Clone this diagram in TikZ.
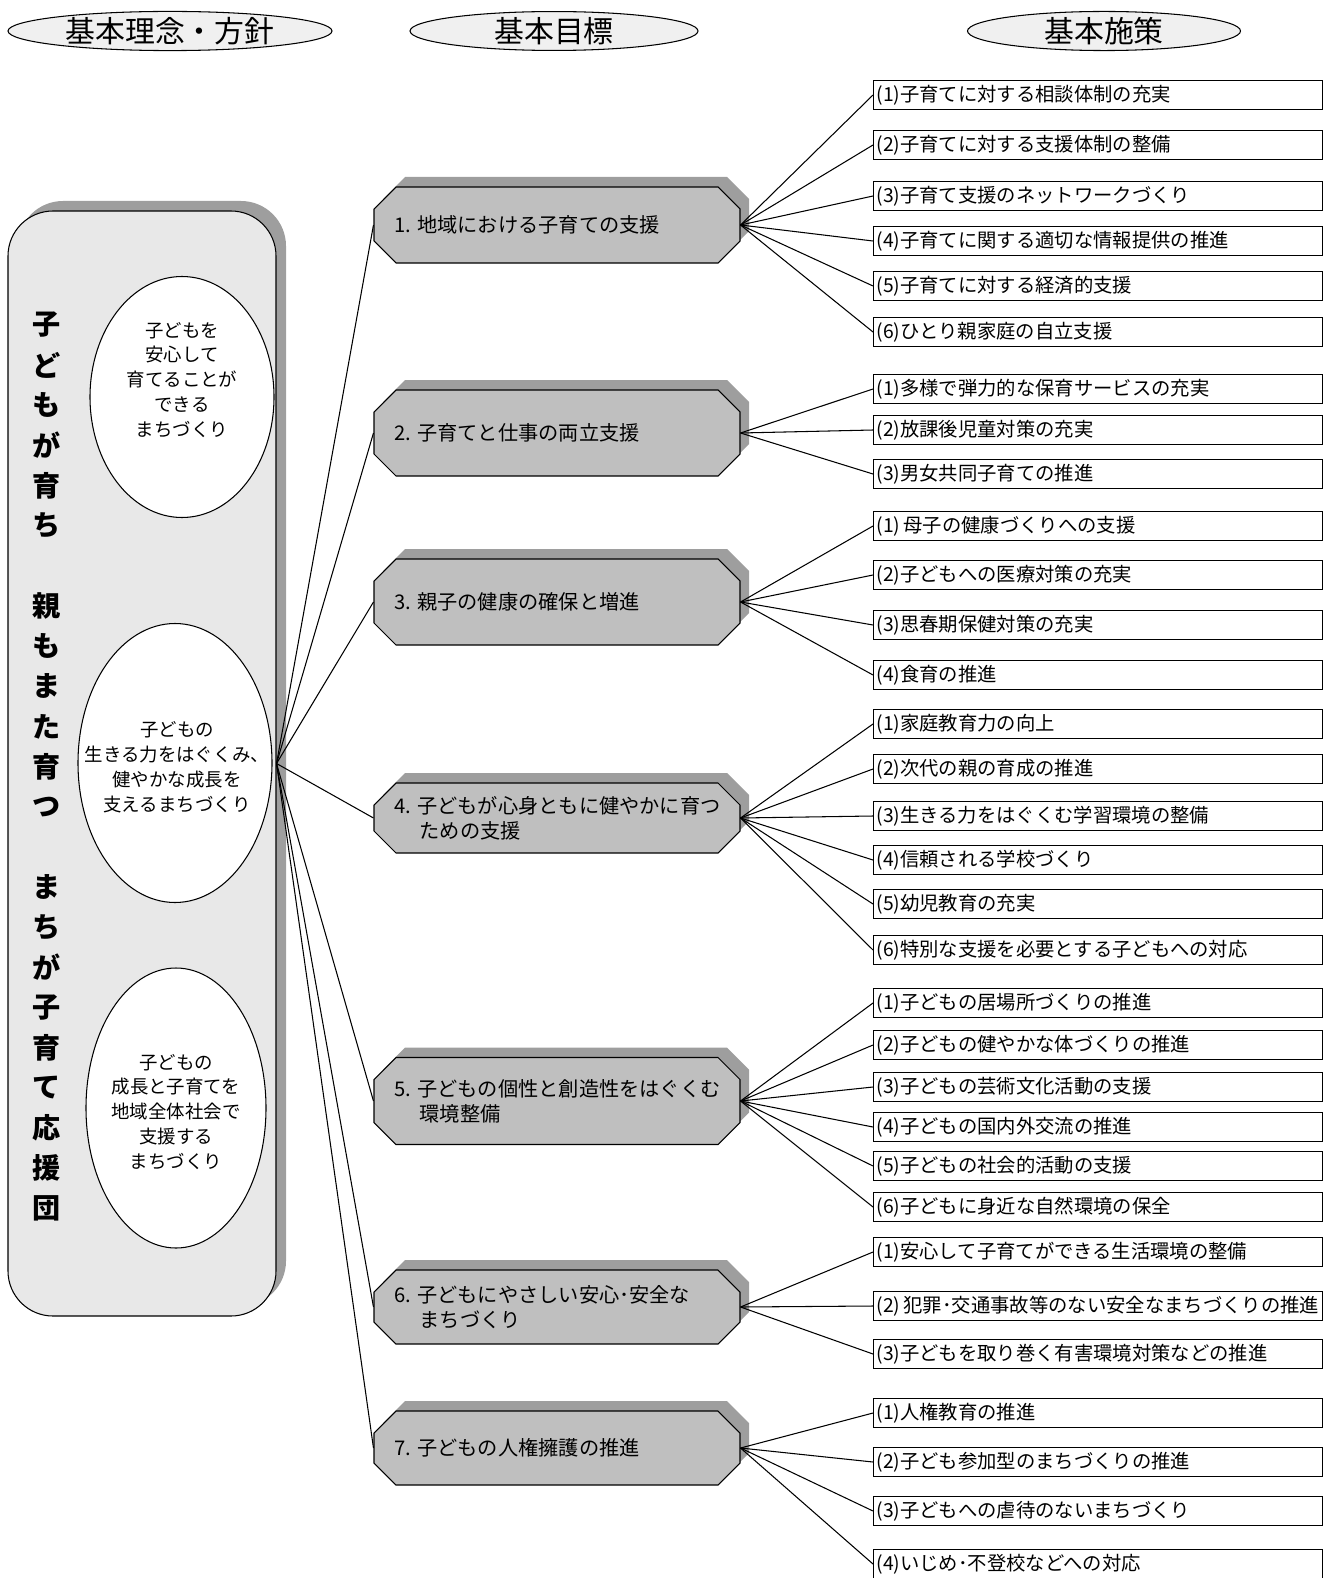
\documentclass[tikz,border=0pt]{standalone}
\usepackage{fontspec}
\setmainfont{Noto Sans CJK JP}
\usetikzlibrary{shapes.geometric}
\definecolor{shadowc}{gray}{0.62}
\definecolor{octfill}{gray}{0.75}
\definecolor{lboxfill}{gray}{0.91}
\definecolor{hdrfill}{gray}{0.94}
\newcommand\octshape[3]{%
  \path[#3] (396,#1-#2/2) -- (718,#1-#2/2) -- (740,#1-#2/2+22) -- (740,#1+#2/2-22)
    -- (718,#1+#2/2) -- (396,#1+#2/2) -- (374,#1+#2/2-22) -- (374,#1-#2/2+22) -- cycle;}
\newcommand\octa[4]{% name, cy, h, text
  \begin{scope}[shift={(9,-10)}]\octshape{#2}{#3}{fill=shadowc}\end{scope}
  \octshape{#2}{#3}{draw,fill=octfill}
  \node[inner sep=0, minimum width={366*0.02cm}, minimum height={#3*0.02cm}] (#1) at (557,#2) {};
  \node[octtext] (#1t) at (394,#2) {#4};}
\newcommand\rbx[3]{\node[rbox] (#1) at (873,#2) {\raisebox{-1pt}{#3}};}
\begin{document}
\begin{tikzpicture}[x=0.02cm,y=-0.02cm, line width=0.6pt,
  hdr/.style={ellipse, draw, fill=hdrfill, inner sep=0, minimum height={38*0.02cm},
    font=\fontsize{17}{17}\selectfont},
  inell/.style={ellipse, draw, fill=white, inner sep=0},
  elltext/.style={align=center, inner sep=0, font=\fontsize{10.5}{14.2}\selectfont},
  vt/.style={inner sep=0, font=\fontsize{16}{16}\selectfont\bfseries},
  octtext/.style={anchor=west, align=left, inner sep=0, font=\fontsize{11.5}{14.2}\selectfont},
  rbox/.style={draw, anchor=west, align=left, inner xsep={3*0.02cm}, inner ysep=0,
    text width={443*0.02cm}, minimum height={29*0.02cm}, fill=white,
    font=\fontsize{11}{12}\selectfont},
  conn/.style={line width=0.6pt}]
\useasboundingbox (0,0) rectangle (1332,1578);

% headers
\node[hdr, minimum width={324*0.02cm}] (h1) at (170,31) {基本理念・方針};
\node[hdr, minimum width={288*0.02cm}] (h2) at (554,31) {基本目標};
\node[hdr, minimum width={273*0.02cm}] (h3) at (1104,31) {基本施策};

% left box
\node[fill=shadowc, rounded corners=0.9cm, minimum width={268*0.02cm}, minimum height={1105*0.02cm}, inner sep=0] (lshadow) at (152,753.5) {};
\node[draw, fill=lboxfill, rounded corners=0.9cm, minimum width={268*0.02cm}, minimum height={1105*0.02cm}, inner sep=0] (lbox) at (142,763.5) {};

\node[inell, minimum width={184*0.02cm}, minimum height={241*0.02cm}] (e1) at (182,397) {};
\node[elltext] (e1t) at (182,380) {子どもを\\安心して\\育てることが\\できる\\まちづくり};
\node[inell, minimum width={194*0.02cm}, minimum height={279*0.02cm}] (e2) at (175,763) {};
\node[elltext] (e2t) at (177,767) {子どもの\\生きる力をはぐくみ、\\健やかな成長を\\支えるまちづくり};
\node[inell, minimum width={180*0.02cm}, minimum height={280*0.02cm}] (e3) at (176,1108) {};
\node[elltext] (e3t) at (176,1112) {子どもの\\成長と子育てを\\地域全体社会で\\支援する\\まちづくり};

\foreach \c [count=\i from 0] in {子,ど,も,が,育,ち,{},親,も,ま,た,育,つ,{},ま,ち,が,子,育,て,応,援,団}
  \node[vt] (vt\i) at (47,325+\i*40.14) {\c};

% octagons
\octa{o1}{225}{76}{1. 地域における子育ての支援}
\octa{o2}{433}{86}{2. 子育てと仕事の両立支援}
\octa{o3}{602}{86}{3. 親子の健康の確保と増進}
\octa{o4}{818}{70}{4. 子どもが心身ともに健やかに育つ\\\hspace*{1.25em}ための支援}
\octa{o5}{1101}{87}{5. 子どもの個性と創造性をはぐくむ\\\hspace*{1.25em}環境整備}
\octa{o6}{1307}{74}{6. 子どもにやさしい安心･安全な\\\hspace*{1.25em}まちづくり}
\octa{o7}{1448}{74}{7. 子どもの人権擁護の推進}

\foreach \o in {o1,o2,o3,o4,o5,o6,o7}
  \draw[conn] (lbox.east) -- (\o.west);

% right boxes
\rbx{b11}{95}{(1)子育てに対する相談体制の充実}
\rbx{b12}{145}{(2)子育てに対する支援体制の整備}
\rbx{b13}{196}{(3)子育て支援のネットワークづくり}
\rbx{b14}{241}{(4)子育てに関する適切な情報提供の推進}
\rbx{b15}{286}{(5)子育てに対する経済的支援}
\rbx{b16}{332}{(6)ひとり親家庭の自立支援}
\rbx{b21}{389}{(1)多様で弾力的な保育サービスの充実}
\rbx{b22}{430}{(2)放課後児童対策の充実}
\rbx{b23}{474}{(3)男女共同子育ての推進}
\rbx{b31}{526}{(1)\,母子の健康づくりへの支援}
\rbx{b32}{575}{(2)子どもへの医療対策の充実}
\rbx{b33}{625}{(3)思春期保健対策の充実}
\rbx{b34}{675}{(4)食育の推進}
\rbx{b41}{724}{(1)家庭教育力の向上}
\rbx{b42}{769}{(2)次代の親の育成の推進}
\rbx{b43}{816}{(3)生きる力をはぐくむ学習環境の整備}
\rbx{b44}{860}{(4)信頼される学校づくり}
\rbx{b45}{904}{(5)幼児教育の充実}
\rbx{b46}{950}{(6)特別な支援を必要とする子どもへの対応}
\rbx{b51}{1003}{(1)子どもの居場所づくりの推進}
\rbx{b52}{1045}{(2)子どもの健やかな体づくりの推進}
\rbx{b53}{1087}{(3)子どもの芸術文化活動の支援}
\rbx{b54}{1127}{(4)子どもの国内外交流の推進}
\rbx{b55}{1166}{(5)子どもの社会的活動の支援}
\rbx{b56}{1207}{(6)子どもに身近な自然環境の保全}
\rbx{b61}{1252}{(1)安心して子育てができる生活環境の整備}
\rbx{b62}{1306}{(2)\,犯罪･交通事故等のない安全なまちづくりの推進}
\rbx{b63}{1354}{(3)子どもを取り巻く有害環境対策などの推進}
\rbx{b71}{1413}{(1)人権教育の推進}
\rbx{b72}{1462}{(2)子ども参加型のまちづくりの推進}
\rbx{b73}{1511}{(3)子どもへの虐待のないまちづくり}
\rbx{b74}{1564}{(4)いじめ･不登校などへの対応}

\foreach \o/\bl in {o1/{b11,b12,b13,b14,b15,b16}, o2/{b21,b22,b23}, o3/{b31,b32,b33,b34},
   o4/{b41,b42,b43,b44,b45,b46}, o5/{b51,b52,b53,b54,b55,b56}, o6/{b61,b62,b63},
   o7/{b71,b72,b73,b74}}
  \foreach \b in \bl
    \draw[conn] (\o.east) -- (\b.west);
\end{tikzpicture}
\end{document}
